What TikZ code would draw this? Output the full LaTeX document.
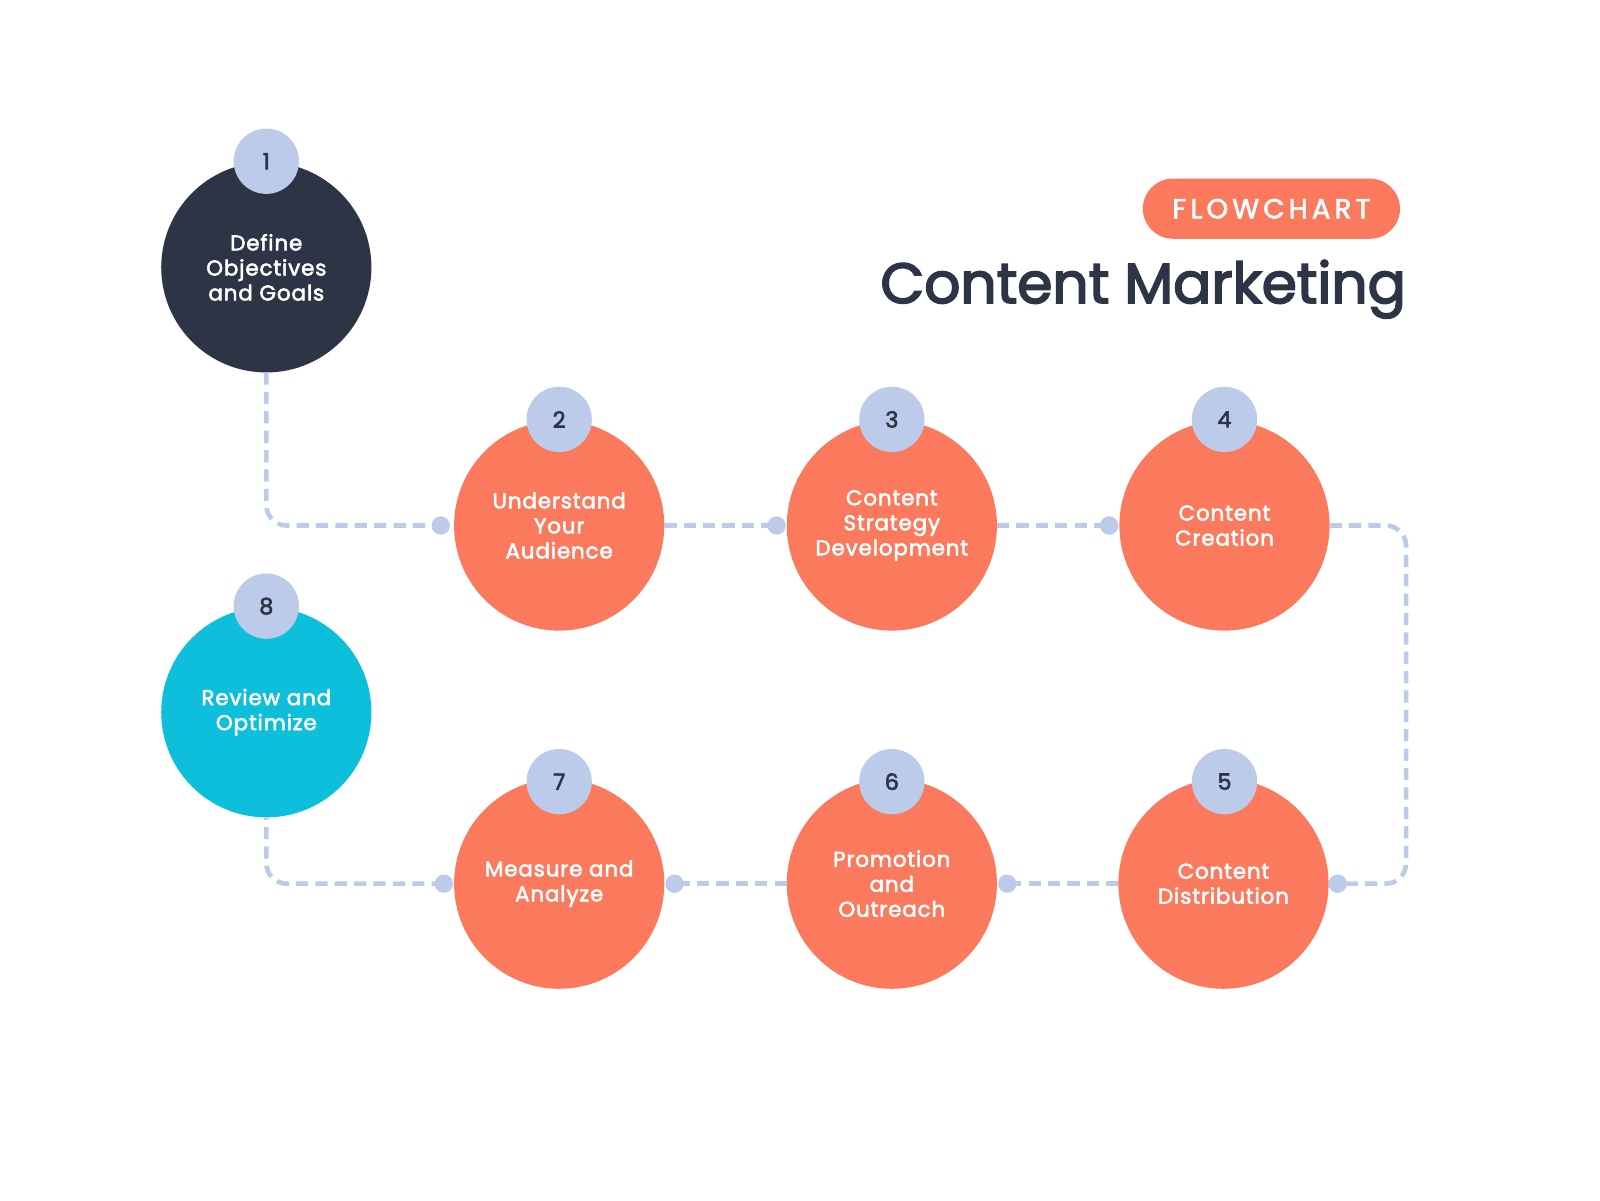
\documentclass[tikz,border=0pt]{standalone}
\usepackage{fontspec}
\setmainfont{Poppins}
\newfontfamily\medfont{Poppins}[FakeBold=2.5]
\newfontfamily\ttlfont{Poppins}[FakeBold=3]
\definecolor{orng}{HTML}{FB7A5D}
\definecolor{navy}{HTML}{2C3445}
\definecolor{cyanc}{HTML}{0EBFDC}
\definecolor{lblue}{HTML}{BCCBEA}
\begin{document}
\begin{tikzpicture}[x=1pt,y=-1pt]
\useasboundingbox[fill=white] (0,0) rectangle (1568,1176);
\tikzset{
  stepc/.style={circle, minimum size=206pt, inner sep=0pt, outer sep=0pt, text=white, align=center,
    font=\medfont\fontsize{21}{24.5}\selectfont\addfontfeature{LetterSpace=4}},
  numc/.style={circle, fill=lblue, minimum size=64pt, inner sep=0pt, text=navy,
    font=\medfont\fontsize{22}{24}\selectfont},
  link/.style={draw=lblue, line width=4.5pt, dash pattern=on 12pt off 7pt, rounded corners=20pt},
  dotc/.style={circle, fill=lblue, minimum size=18pt, inner sep=0pt},
}
\coordinate (d2) at (432,515);
\coordinate (d3) at (761,515);
\coordinate (d4) at (1087,515);
\coordinate (d5) at (1311,866);
\coordinate (d6) at (987,866);
\coordinate (d7) at (661,866);
\coordinate (d8) at (435,866);
\coordinate (k1) at (1378,515);
\coordinate (k2) at (1378,866);

\node[stepc, fill=navy] (c1) at (261,262) {Define\\Objectives\\and Goals};
\node[stepc, fill=orng] (c2) at (548,515) {Understand\\Your\\Audience};
\node[stepc, fill=orng] (c3) at (874,515) {Content\\Strategy\\Development};
\node[stepc, fill=orng] (c4) at (1200,515) {Content\\Creation};
\node[stepc, fill=orng] (c5) at (1199,866) {Content\\Distribution};
\node[stepc, fill=orng] (c6) at (874,866) {Promotion\\and\\Outreach};
\node[stepc, fill=orng] (c7) at (548,866) {Measure and\\Analyze};
\node[stepc, fill=cyanc] (c8) at (261,698) {Review and\\Optimize};

\draw[link] (c1.south) |- (d2);
\draw[link] (c2.east) -- (d3);
\draw[link] (c3.east) -- (d4);
\draw[link] (c4.east) -- (k1) -- (k2) -- (d5);
\draw[link] (c5.west) -- (d6);
\draw[link] (c6.west) -- (d7);
\draw[link] (d8) -| (c8.south);

\foreach \d in {d2,d3,d4,d5,d6,d7,d8} \node[dotc] at (\d) {};

\node[numc] (n1) at (261,158) {1};
\node[numc] (n2) at (548,411) {2};
\node[numc] (n3) at (874,411) {3};
\node[numc] (n4) at (1200,411) {4};
\node[numc] (n5) at (1200,766) {5};
\node[numc] (n6) at (874,766) {6};
\node[numc] (n7) at (548,766) {7};
\node[numc] (n8) at (261,594) {8};

\node[fill=orng, rounded corners=29.5pt, minimum width=252pt, minimum height=59pt, inner sep=0pt,
  text=white, font=\medfont\fontsize{27}{30}\selectfont\addfontfeature{LetterSpace=15}] (badge) at (1246,204.5) {FLOWCHART};
\node[anchor=base east, inner sep=0pt, text=navy, font=\ttlfont\fontsize{55.5}{60}\selectfont] (title) at (1378,297) {Content Marketing};
\end{tikzpicture}
\end{document}
